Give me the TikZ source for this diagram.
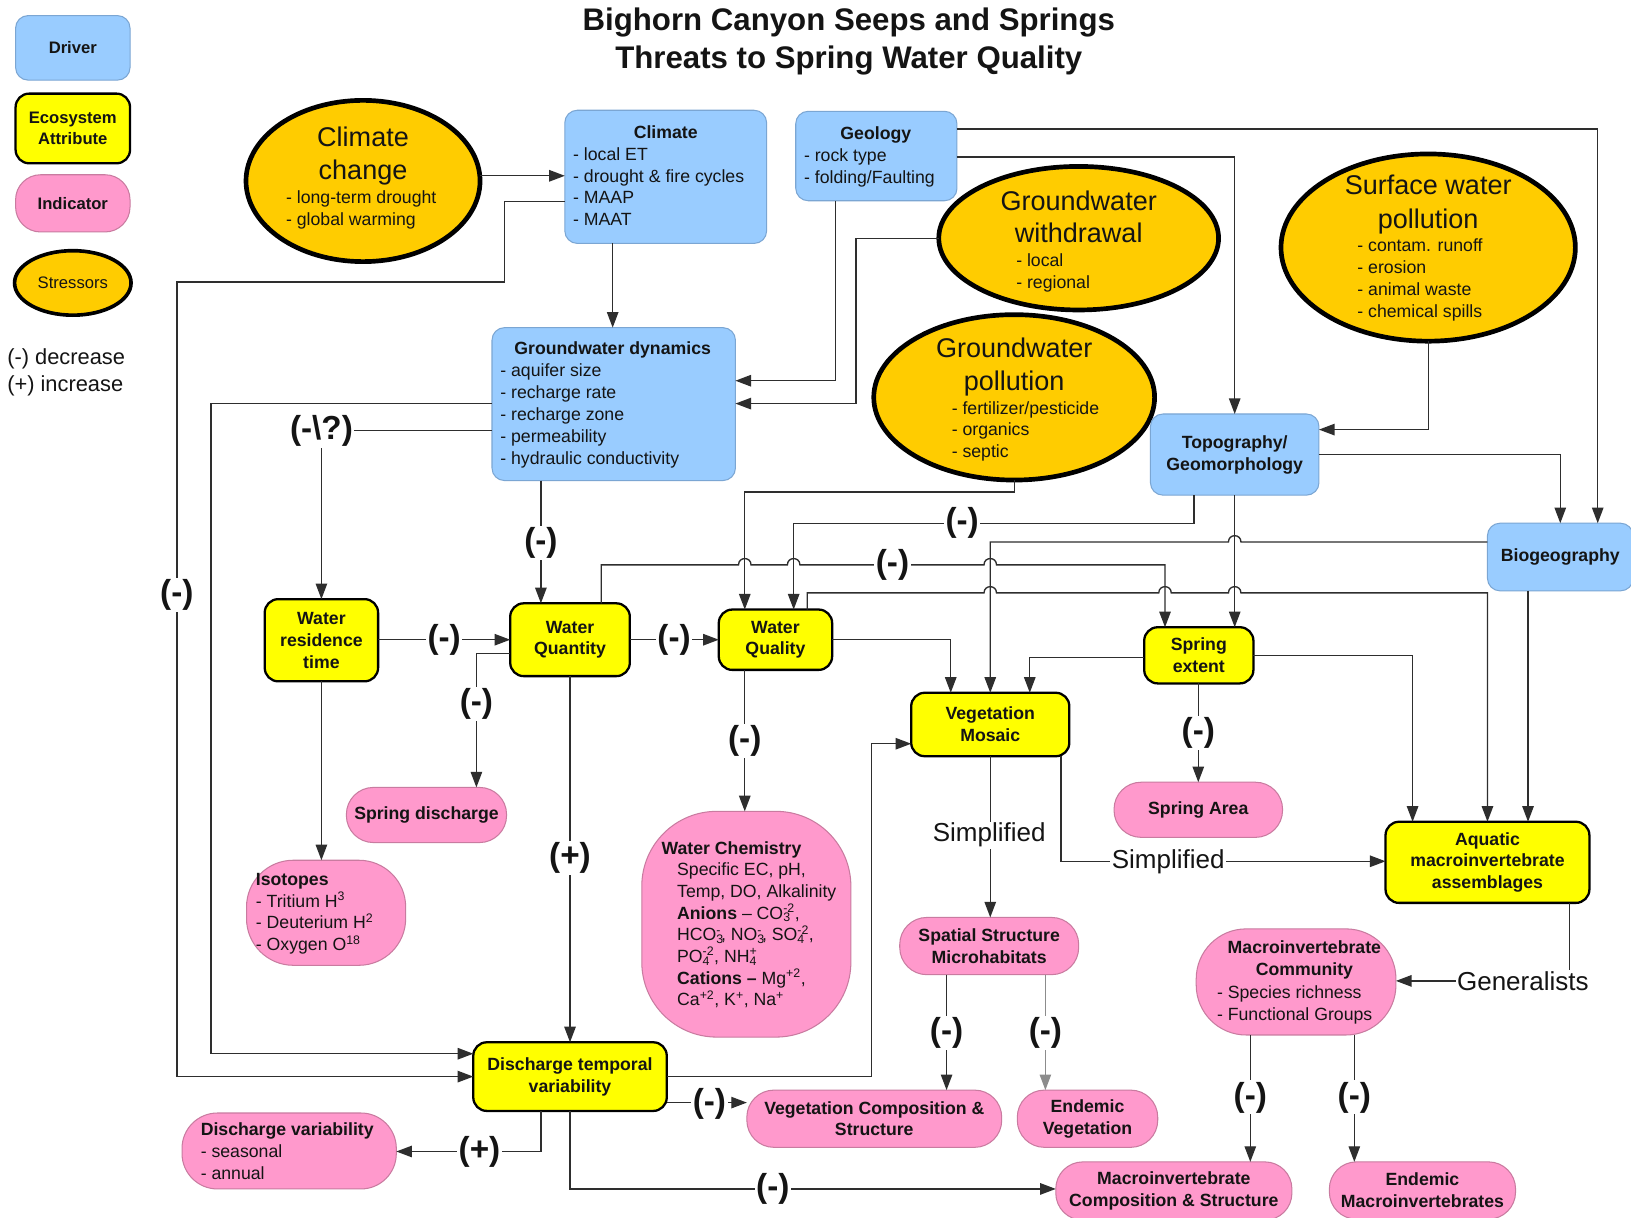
\documentclass[tikz,border=0pt]{standalone}
\usepackage{fontspec}
\setmainfont{Liberation Sans}
\usetikzlibrary{arrows.meta,shapes.geometric}

\definecolor{drvfill}{HTML}{99CCFF}
\definecolor{drvline}{HTML}{7BA6D3}
\definecolor{attfill}{HTML}{FFFF00}
\definecolor{indfill}{HTML}{FF99CC}
\definecolor{indline}{HTML}{C97BA0}
\definecolor{strfill}{HTML}{FFCC00}
\definecolor{wirecol}{HTML}{2E2E2E}
\definecolor{ink}{HTML}{141414}

\newcommand\fntB{\fontsize{17}{21}\selectfont\bfseries}
\newcommand\fntR{\fontsize{17}{21}\selectfont}
\newcommand\fntBig{\fontsize{26}{31}\selectfont}
\newcommand\fntLab{\fontsize{32}{36}\selectfont\bfseries}
\newcommand\fntNote{\fontsize{25}{30}\selectfont}
\newcommand\fntLeg{\fontsize{16}{19.5}\selectfont}
\newcommand\fntTitle{\fontsize{30}{36}\selectfont\bfseries}
\newcommand\chem[2]{\rlap{\textsubscript{#1}}\textsuperscript{#2}}

\begin{document}
\begin{tikzpicture}[x=1pt,y=-1pt,
  every node/.style={inner sep=0pt, outer sep=0pt, text=ink},
  driver/.style={draw=drvline, line width=1pt, fill=drvfill, rounded corners=12pt, align=center, font=\fntB},
  attr/.style={draw=black, line width=2.2pt, fill=attfill, rounded corners=13pt, align=center, font=\fntB},
  ind/.style={draw=indline, line width=1pt, fill=indfill, rounded corners=26pt, align=center, font=\fntB},
  stress/.style={ellipse, draw=black, line width=4.5pt, fill=strfill},
  li/.style={font=\fntR, anchor=west, text height=12.2pt, text depth=0pt},
  lib/.style={font=\fntB, anchor=west, text height=12.2pt, text depth=0pt},
  hd/.style={font=\fntB, text height=12.2pt, text depth=0pt},
  bg/.style={font=\fntBig, text height=18.6pt, text depth=0pt},
  lab/.style={font=\fntLab, fill=white, inner sep=1.5pt},
  note/.style={font=\fntNote, fill=white, inner sep=1.5pt},
  conn/.style={draw=wirecol, line width=1.3pt},
  arr/.style={conn, -{Triangle[length=15pt,width=11pt]}},
  hopR/.style args={#1/#2}{insert path={-- (#1-6,#2) .. controls (#1-6,#2-8) and (#1+6,#2-8) .. (#1+6,#2)}},
  hopL/.style args={#1/#2}{insert path={-- (#1+6,#2) .. controls (#1+6,#2-8) and (#1-6,#2-8) .. (#1-6,#2)}},
]
\useasboundingbox (0,0) rectangle (1568,1170);
\fill[white] (0,0) rectangle (1568,1170);

% ---------- title ----------
\node[font=\fntTitle] (title1) at (816,22) {Bighorn Canyon Seeps and Springs};
\node[font=\fntTitle] (title2) at (816,58) {Threats to Spring Water Quality};

% ---------- legend ----------
\node[driver, font=\fntLeg\bfseries, minimum width=110pt, minimum height=62pt] (legDriver) at (70,46) {Driver};
\node[attr, font=\fntLeg\bfseries, minimum width=110pt, minimum height=67pt] (legAttr) at (70,123.5) {Ecosystem\\Attribute};
\node[ind, font=\fntLeg\bfseries, rounded corners=24pt, minimum width=110pt, minimum height=55pt] (legInd) at (70,195.5) {Indicator};
\node[stress, font=\fntLeg, line width=3.5pt, minimum width=112pt, minimum height=62pt] (legStr) at (70,272) {Stressors};
\node[font=\fontsize{21}{25}\selectfont, anchor=west] (legDec) at (7,345) {(-) decrease};
\node[font=\fontsize{21}{25}\selectfont, anchor=west] (legInc) at (7,371) {(+) increase};

% ---------- stressors ----------
\node[stress, minimum width=225pt, minimum height=155pt] (cc) at (349,174) {};
\node[bg] (ccT1) at (349,132) {Climate};
\node[bg] (ccT2) at (349,163) {change};
\foreach \t [count=\i from 0] in {{- long-term drought},{- global warming}}
  \node[li] (ccL\i) at (275,190+21*\i) {\t};

\node[stress, minimum width=269pt, minimum height=138pt] (gww) at (1037,229) {};
\node[bg] (gwwT1) at (1037,193) {Groundwater};
\node[bg] (gwwT2) at (1037,224) {withdrawal};
\foreach \t [count=\i from 0] in {{- local},{- regional}}
  \node[li] (gwwL\i) at (977,250+21*\i) {\t};

\node[stress, minimum width=283pt, minimum height=180pt] (swp) at (1373,238) {};
\node[bg] (swpT1) at (1373,178) {Surface water};
\node[bg] (swpT2) at (1373,210) {pollution};
\foreach \t [count=\i from 0] in {{- contam. runoff},{- erosion},{- animal waste},{- chemical spills}}
  \node[li] (swpL\i) at (1305,236+21*\i) {\t};

\node[stress, minimum width=270pt, minimum height=159pt] (gwp) at (975,382) {};
\node[bg] (gwpT1) at (975,334) {Groundwater};
\node[bg] (gwpT2) at (975,366) {pollution};
\foreach \t [count=\i from 0] in {{- fertilizer/pesticide},{- organics},{- septic}}
  \node[li] (gwpL\i) at (915,392+21*\i) {\t};

% ---------- drivers ----------
\node[driver, minimum width=194pt, minimum height=128pt] (clim) at (640,170) {};
\node[hd] (climT) at (640,127) {Climate};
\foreach \t [count=\i from 0] in {{- local ET},{- drought \& fire cycles},{- MAAP},{- MAAT}}
  \node[li] (climL\i) at (551,148+21*\i) {\t};

\node[driver, minimum width=155pt, minimum height=86pt] (geo) at (842.5,150) {};
\node[hd] (geoT) at (842,128) {Geology};
\foreach \t [count=\i from 0] in {{- rock type},{- folding/Faulting}}
  \node[li] (geoL\i) at (773,149+21*\i) {\t};

\node[driver, minimum width=234pt, minimum height=147pt] (gwd) at (590,388.5) {};
\node[hd] (gwdT) at (589,335) {Groundwater dynamics};
\foreach \t [count=\i from 0] in {{- aquifer size},{- recharge rate},{- recharge zone},{- permeability},{- hydraulic conductivity}}
  \node[li] (gwdL\i) at (481,356+21*\i) {\t};

\node[driver, minimum width=162pt, minimum height=78pt] (topo) at (1187,437) {Topography/\\Geomorphology};
\node[driver, minimum width=140pt, minimum height=65pt] (bio) at (1500,535.5) {Biogeography};

% ---------- ecosystem attributes ----------
\node[attr, minimum width=109pt, minimum height=79pt] (wrt) at (309,615.5) {Water\\residence\\time};
\node[attr, minimum width=115pt, minimum height=70pt] (wqn) at (548,615) {Water\\Quantity};
\node[attr, minimum width=109pt, minimum height=58pt] (wql) at (745.5,615) {Water\\Quality};
\node[attr, minimum width=152pt, minimum height=61pt] (vm) at (952,696.5) {Vegetation\\Mosaic};
\node[attr, minimum width=105pt, minimum height=54pt] (se) at (1152.5,630) {Spring\\extent};
\node[attr, minimum width=196pt, minimum height=78pt] (aq) at (1430,829) {Aquatic\\macroinvertebrate\\assemblages};
\node[attr, minimum width=186pt, minimum height=66pt] (dtv) at (548,1035) {Discharge temporal\\variability};

% ---------- indicators ----------
\node[ind, minimum width=154pt, minimum height=53pt] (sd) at (410,783.5) {Spring discharge};

\node[ind, rounded corners=45pt, minimum width=153pt, minimum height=101pt] (iso) at (313.5,877.5) {};
\node[lib] (isoT) at (246,845) {Isotopes};
\foreach \t [count=\i from 0] in {{- Tritium H\textsuperscript{3}},{- Deuterium H\textsuperscript{2}},{- Oxygen O\textsuperscript{18}}}
  \node[li] (isoL\i) at (246,866+21*\i) {\t};

\node[ind, rounded corners=72pt, minimum width=201pt, minimum height=217pt] (wc) at (717.5,888.5) {};
\node[lib] (wcT) at (636,815) {Water Chemistry};
\foreach \t [count=\i from 0] in {{Specific EC, pH,},{Temp, DO, Alkalinity},{\textbf{Anions} -- CO\chem{3}{-2},},{HCO\chem{3}{-}, NO\chem{3}{-}, SO\chem{4}{-2},},{PO\chem{4}{-2}, NH\chem{4}{+}},{\textbf{Cations --} Mg\textsuperscript{+2},},{Ca\textsuperscript{+2}, K\textsuperscript{+}, Na\textsuperscript{+}}}
  \node[li] (wcL\i) at (651,836+20.8*\i) {\t};

\node[ind, minimum width=162pt, minimum height=53pt] (sa) at (1152,778.5) {Spring Area};
\node[ind, minimum width=172pt, minimum height=55pt] (ss) at (951,909.5) {Spatial Structure\\Microhabitats};

\node[ind, rounded corners=34pt, minimum width=206pt, minimum height=73pt] (dv) at (278,1106.5) {};
\node[lib] (dvT) at (193,1086) {Discharge variability};
\foreach \t [count=\i from 0] in {{- seasonal},{- annual}}
  \node[li] (dvL\i) at (193,1107+21*\i) {\t};

\node[ind, minimum width=245pt, minimum height=55pt] (vc) at (840.5,1075.5) {Vegetation Composition \&\\Structure};
\node[ind, minimum width=135pt, minimum height=55pt] (ev) at (1045.5,1075.5) {Endemic\\Vegetation};

\node[ind, rounded corners=48pt, minimum width=192pt, minimum height=102pt] (mc) at (1246,944) {};
\node[font=\fntB, align=center] (mcT) at (1254,922.5) {Macroinvertebrate\\Community};
\foreach \t [count=\i from 0] in {{- Species richness},{- Functional Groups}}
  \node[li] (mcL\i) at (1170,954+21*\i) {\t};

\node[ind, minimum width=227pt, minimum height=56pt] (mcs) at (1128.5,1145) {Macroinvertebrate\\Composition \& Structure};
\node[ind, minimum width=179pt, minimum height=55pt] (em) at (1367.5,1144.5) {Endemic\\Macroinvertebrates};

% ---------- connectors ----------
\draw[arr] (cc.east |- 0,169) -- (clim.west |- 0,169);
\draw[arr] (clim.west |- 0,194) -- (485,194) -- (485,271) -- (170,271) -- (170,1035) -- (dtv.west |- 0,1035);
\draw[arr] (gwd.west |- 0,388) -- (203,388) -- (203,1013) -- (dtv.west |- 0,1013);
\draw[arr] (gwd.west |- 0,414) -- (309,414) -- (wrt.north);
\draw[arr] (clim.south -| 589,0) -- (gwd.north -| 589,0);
\draw[arr] (geo.south -| 803,0) -- (803,366) -- (gwd.east |- 0,366);
\draw[arr] (gww.west) -- (823,229) -- (823,388) -- (gwd.east |- 0,388);
\draw[arr] (geo.east |- 0,124) -- (1536,124) -- (bio.north -| 1536,0);
\draw[arr] (geo.east |- 0,151) -- (1187,151) -- (topo.north);
\draw[arr] (swp.south) -- (1373,413) -- (topo.east |- 0,413);
\draw[arr] (topo.east) -- (1500,437) -- (bio.north -| 1500,0);
\draw[arr] (gwp.south) -- (975,473) -- (716,473) -- (wql.north -| 716,0);
\draw[arr] (topo.south -| 1148,0) -- (1148,503) -- (763,503) -- (wql.north -| 763,0);
\draw[arr] (bio.west |- 0,521) [hopL=1187/521] -- (952,521) -- (vm.north);
\draw[arr] (wqn.north -| 578,0) -- (578,543) [hopR=716/543] [hopR=763/543] [hopR=952/543] -- (1120,543) -- (se.north -| 1120,0);
\draw[arr] (wql.north -| 776,0) -- (776,570) [hopR=952/570] [hopR=1120/570] [hopR=1187/570] -- (1430,570) -- (aq.north -| 1430,0);
\draw[arr] (topo.south) -- (topo.south |- se.north);
\draw[arr] (wql.east) -- (914,615) -- (vm.north -| 914,0);
\draw[arr] (se.west |- 0,632) -- (990,632) -- (vm.north -| 990,0);
\draw[arr] (se.east) -- (1358,630) -- (aq.north -| 1358,0);
\draw[arr] (bio.south -| 1469,0) -- (aq.north -| 1469,0);
\draw[arr] (se.south -| 1152,0) -- (sa.north);
\draw[arr] (vm.south) -- (ss.north -| vm.south);
\draw[arr] (vm.south -| 1020,0) -- (1020,828) -- (aq.west |- 0,828);
\draw[arr] (aq.south -| 1509,0) -- (1509,943) -- (mc.east |- 0,943);
\draw[arr] (wqn.south) -- (dtv.north);
\draw[arr] (wqn.west |- 0,628) -- (458,628) -- (sd.north -| 458,0);
\draw[arr] (wrt.east |- 0,615) -- (wqn.west |- 0,615);
\draw[arr] (wqn.east) -- (wqn.east -| wql.west);
\draw[arr] (gwd.south -| 520,0) -- (wqn.north -| 520,0);
\draw[arr] (wrt.south) -- (wrt.south |- iso.north);
\draw[arr] (wql.south -| 716,0) -- (wc.north -| 716,0);
\draw[arr] (dtv.east) -- (838,1035) -- (838,715) -- (vm.west |- 0,715);
\draw[arr] (dtv.east |- 0,1060) -- (vc.west |- 0,1060);
\draw[arr] (dtv.south -| 520,0) -- (520,1107) -- (dv.east |- 0,1107);
\draw[arr] (dtv.south) -- (548,1143) -- (mcs.west |- 0,1143);
\draw[arr] (ss.south -| 910,0) -- (vc.north -| 910,0);
\draw[arr, draw=black!45, line width=1pt] (ss.south -| 1005,0) -- (ev.north -| 1005,0);
\draw[arr] (mc.south -| 1202,0) -- (mcs.north -| 1202,0);
\draw[arr] (mc.south -| 1302,0) -- (em.north -| 1302,0);

% ---------- connector labels ----------
\node[lab] (m1) at (170,572) {(-)};
\node[lab] (mq) at (309,414) {(-\textbackslash?)};
\node[lab] (m2) at (520,522) {(-)};
\node[lab] (m3) at (427,615) {(-)};
\node[lab] (m4) at (648,615) {(-)};
\node[lab] (m5) at (458,677) {(-)};
\node[lab] (p1) at (548,825) {(+)};
\node[lab] (m6) at (716,712) {(-)};
\node[lab] (m7) at (925,503) {(-)};
\node[lab] (m8) at (858,543) {(-)};
\node[lab] (m9) at (1152,705) {(-)};
\node[note] (s1) at (951,803) {Simplified};
\node[note] (s2) at (1123,828) {Simplified};
\node[note] (g1) at (1464,943) {Generalists};
\node[lab] (m10) at (910,993) {(-)};
\node[lab] (m11) at (1005,993) {(-)};
\node[lab] (m12) at (682,1061) {(-)};
\node[lab] (p2) at (461,1107) {(+)};
\node[lab] (m13) at (743,1143) {(-)};
\node[lab] (m14) at (1202,1055) {(-)};
\node[lab] (m15) at (1302,1055) {(-)};
\end{tikzpicture}
\end{document}
